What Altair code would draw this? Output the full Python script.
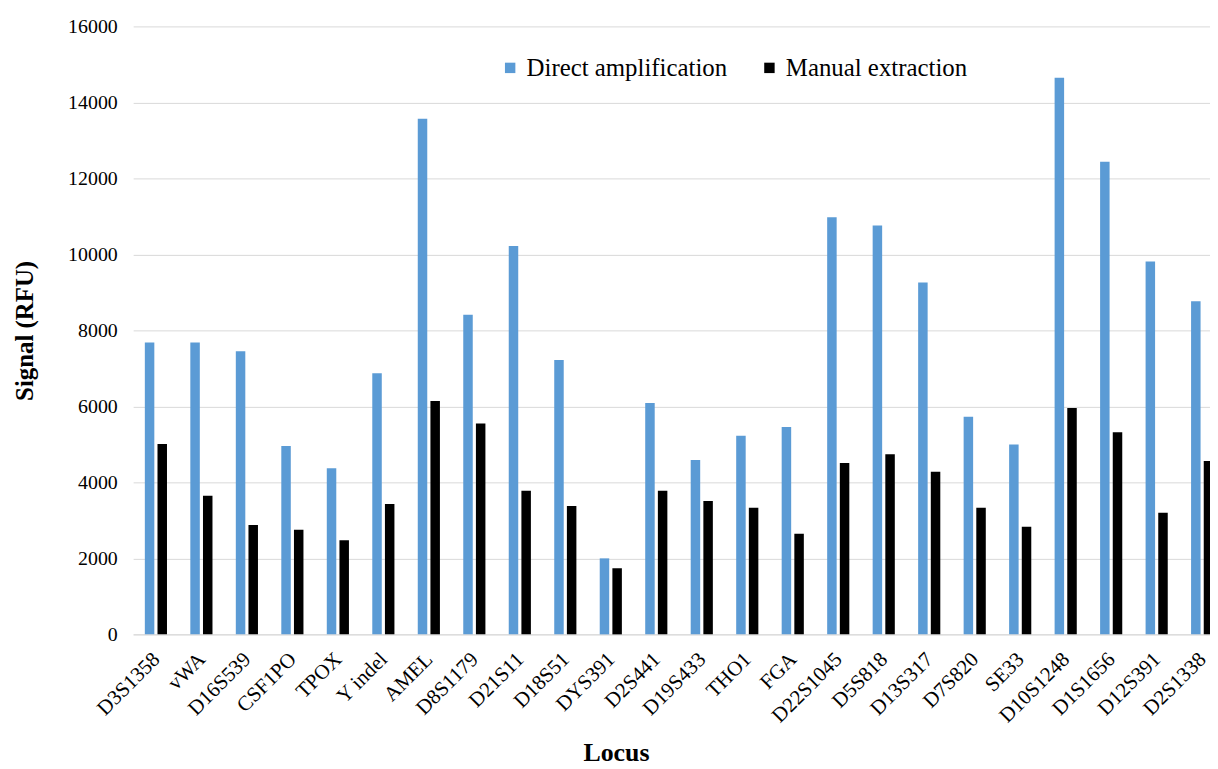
import altair as alt
import pandas as pd

loci = ["D3S1358", "vWA", "D16S539", "CSF1PO", "TPOX", "Y indel", "AMEL", "D8S1179",
        "D21S11", "D18S51", "DYS391", "D2S441", "D19S433", "THO1", "FGA", "D22S1045",
        "D5S818", "D13S317", "D7S820", "SE33", "D10S1248", "D1S1656", "D12S391", "D2S1338"]
direct = [7680, 7680, 7450, 4960, 4370, 6870, 13570, 8410, 10220, 7220, 2000, 6090,
          4590, 5230, 5460, 10980, 10760, 9260, 5730, 5000, 14650, 12440, 9810, 8770]
manual = [5010, 3650, 2880, 2750, 2480, 3430, 6140, 5550, 3780, 3380, 1740, 3780,
          3510, 3330, 2650, 4510, 4740, 4280, 3330, 2830, 5960, 5320, 3200, 4560]
series = ["Direct amplification", "Manual extraction"]
colors = ["#5B9BD5", "#000000"]
y_ticks = [0, 2000, 4000, 6000, 8000, 10000, 12000, 14000, 16000]

rows = []
for i, loc in enumerate(loci):
    rows.append({"Locus": loc, "Series": series[0], "Signal": direct[i]})
    rows.append({"Locus": loc, "Series": series[1], "Signal": manual[i]})
df = pd.DataFrame(rows)

FONT = "Liberation Serif"

chart = alt.Chart(df).mark_bar().encode(
    x=alt.X("Locus:N", sort=loci,
            scale=alt.Scale(range=[0, 1099], paddingInner=0.513, paddingOuter=0.2565),
            axis=alt.Axis(title="Locus", labelAngle=-45, labelAlign="right", labelBaseline="top",
                          labelPadding=14, labelOffset=-7, ticks=False, labelFontSize=21,
                          labelFont=FONT, labelColor="#000000", domainColor="#d9d9d9",
                          titleFont=FONT, titleFontSize=26, titleFontWeight="bold",
                          titleColor="#000000", titleX=486, titleY=127,
                          titleBaseline="alphabetic", labelOverlap=False, labelLimit=300)),
    xOffset=alt.XOffset("Series:N", sort=series, scale=alt.Scale(paddingInner=0.25)),
    y=alt.Y("Signal:Q", scale=alt.Scale(domain=[0, 16000], nice=False),
            axis=alt.Axis(title="Signal (RFU)", values=y_ticks, format="d", ticks=False,
                          domain=False, labelPadding=16, labelFontSize=20, labelFont=FONT,
                          labelColor="#000000", gridColor="#d9d9d9", titleFont=FONT,
                          titleFontSize=25, titleFontWeight="bold", titleColor="#000000",
                          titlePadding=30)),
    color=alt.Color("Series:N", sort=series,
                    scale=alt.Scale(domain=series, range=colors),
                    legend=alt.Legend(title=None, orient="none", legendX=367, legendY=29,
                                      direction="horizontal", symbolType="square",
                                      symbolSize=110, symbolStrokeWidth=0, labelFont=FONT,
                                      labelFontSize=25, labelColor="#000000", labelLimit=400,
                                      labelOffset=4, columnPadding=29)),
).properties(
    width=1084, height=612,
    autosize=alt.AutoSizeParams(type="none"),
    padding={"left": 126, "top": 16, "right": 0, "bottom": 133},
).configure(font=FONT).configure_view(stroke=None).configure_axis(
    gridWidth=1, labelFont=FONT, titleFont=FONT
).configure_legend(labelFont=FONT)

chart.save("out.html", embed_options={"renderer": "svg", "actions": False})
